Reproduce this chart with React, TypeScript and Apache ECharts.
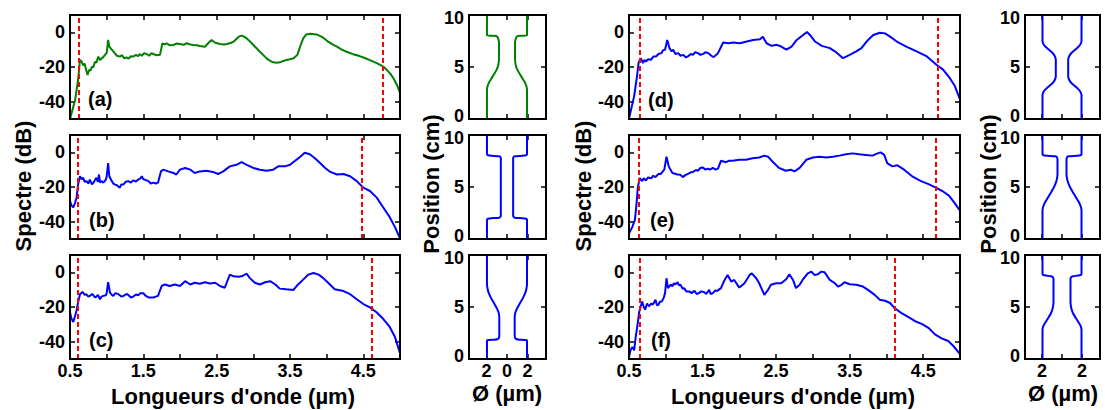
import React, { useEffect, useRef } from "react";
import * as echarts from "echarts";

// ---------- DATA ----------
// spectra: [wavelength (µm), level (dB)]
const specA = [[0.5,-50],[0.57,-39],[0.61,-27.5],[0.636,-16],[0.66,-17],[0.68,-19],[0.7,-18],[0.72,-21.7],[0.74,-24.6],[0.76,-21.7],[0.78,-22],[0.8,-19.8],[0.82,-20],[0.84,-17],[0.86,-17.5],[0.886,-14],[0.91,-16],[0.93,-15],[0.95,-14.5],[0.977,-13],[1.0,-12],[1.02,-4.4],[1.036,-8.3],[1.07,-10],[1.09,-11],[1.11,-12],[1.14,-13.5],[1.18,-14],[1.21,-13.2],[1.24,-15],[1.27,-14.4],[1.3,-15.2],[1.33,-13.8],[1.36,-14],[1.4,-13],[1.43,-13.8],[1.45,-12.5],[1.48,-13.5],[1.51,-12],[1.545,-12.5],[1.58,-13.5],[1.61,-12],[1.636,-12.5],[1.68,-13.2],[1.727,-13],[1.76,-6.3],[1.79,-7],[1.82,-6.3],[1.86,-7.5],[1.91,-7.3],[1.95,-6.5],[2.0,-6.7],[2.05,-7.2],[2.09,-6.3],[2.14,-7],[2.18,-7.3],[2.23,-7.5],[2.27,-7.9],[2.34,-8.3],[2.39,-6],[2.43,-4.4],[2.48,-6],[2.545,-6.7],[2.6,-7],[2.64,-6.7],[2.7,-6],[2.73,-5.4],[2.8,-2.5],[2.84,-1.9],[2.88,-2.6],[2.91,-3.5],[2.96,-5.5],[3.0,-7.3],[3.05,-9.5],[3.09,-11.2],[3.14,-13.3],[3.18,-15],[3.23,-16.5],[3.27,-17.3],[3.32,-17.6],[3.36,-17.3],[3.41,-16.5],[3.45,-15.9],[3.5,-15.5],[3.55,-15],[3.6,-13],[3.64,-8],[3.68,-3.5],[3.72,-1.3],[3.78,-0.8],[3.86,-1.2],[3.93,-2.5],[3.98,-4],[4.02,-5.4],[4.08,-7],[4.14,-8.3],[4.2,-9.8],[4.27,-11.2],[4.36,-12.6],[4.45,-13.7],[4.52,-14.8],[4.59,-16],[4.66,-17.3],[4.73,-18.8],[4.78,-20],[4.82,-21.7],[4.87,-24],[4.91,-26.5],[4.96,-30.5],[5.0,-35]];

const specB = [[0.5,-28],[0.52,-30.7],[0.545,-31.7],[0.57,-29],[0.59,-26],[0.61,-18.5],[0.636,-13.8],[0.66,-15.5],[0.68,-14.7],[0.7,-17],[0.727,-16.6],[0.75,-18],[0.77,-15.7],[0.8,-18.5],[0.82,-17.5],[0.84,-16],[0.86,-14.7],[0.88,-17],[0.895,-12.8],[0.91,-17.5],[0.93,-16.6],[0.955,-17.5],[0.99,-15.7],[1.0,-14],[1.02,-6.2],[1.036,-13.8],[1.07,-16.6],[1.09,-18],[1.11,-18.5],[1.14,-19],[1.18,-20.4],[1.2,-18.5],[1.23,-18.5],[1.26,-17],[1.295,-16.6],[1.33,-17.5],[1.36,-16.2],[1.4,-16.8],[1.43,-15.7],[1.46,-15],[1.48,-13.8],[1.5,-15.5],[1.52,-15.7],[1.57,-16.6],[1.6,-18],[1.636,-17.5],[1.67,-18],[1.7,-17.5],[1.74,-11],[1.77,-10],[1.84,-11],[1.91,-11.9],[1.95,-12.8],[2.0,-10],[2.07,-9],[2.14,-10],[2.2,-11.9],[2.27,-11],[2.36,-10.6],[2.45,-11.3],[2.52,-12.5],[2.59,-11],[2.68,-8.1],[2.77,-7.2],[2.84,-5.7],[2.91,-7.2],[3.0,-9],[3.09,-10],[3.18,-10.6],[3.27,-10],[3.34,-8.1],[3.43,-8.1],[3.5,-7.2],[3.57,-4.9],[3.64,-2.5],[3.7,-0.2],[3.77,-1.1],[3.84,-3.4],[3.91,-6.2],[3.98,-9],[4.05,-11.3],[4.14,-12.8],[4.23,-12.5],[4.32,-13.8],[4.41,-16.6],[4.5,-20.4],[4.59,-22.3],[4.68,-26],[4.77,-31.7],[4.86,-37.4],[4.93,-43],[5.0,-49.6]];

const specC = [[0.5,-23],[0.52,-26.8],[0.545,-28.7],[0.57,-25],[0.59,-22],[0.61,-17.4],[0.636,-12.6],[0.67,-11.3],[0.7,-13],[0.72,-12.6],[0.75,-14],[0.77,-13.6],[0.8,-12.5],[0.82,-13.2],[0.84,-14.5],[0.86,-14],[0.88,-13],[0.91,-15.5],[0.93,-14],[0.955,-13.6],[0.99,-13.2],[1.0,-12],[1.02,-5.7],[1.045,-11.7],[1.07,-13],[1.09,-13.6],[1.12,-12],[1.16,-12.6],[1.2,-14],[1.23,-13.6],[1.27,-12.5],[1.3,-13.2],[1.33,-14.5],[1.36,-14],[1.4,-12.8],[1.43,-13.2],[1.46,-12],[1.5,-12],[1.53,-13.5],[1.57,-14.5],[1.636,-14.5],[1.7,-13.6],[1.75,-7.9],[1.795,-7],[1.86,-7.9],[1.93,-7],[2.0,-7.9],[2.07,-5.1],[2.14,-7],[2.2,-6],[2.27,-6.6],[2.34,-5.7],[2.41,-6.4],[2.48,-6],[2.545,-7.9],[2.61,-8.9],[2.68,-1.3],[2.73,-2.3],[2.8,-2.6],[2.84,-2.3],[2.91,-0.8],[2.95,-3.2],[3.02,-6],[3.09,-7],[3.16,-5.7],[3.23,-5.1],[3.3,-7],[3.36,-9.4],[3.45,-9.8],[3.545,-10.2],[3.61,-7],[3.68,-4.2],[3.75,-1.3],[3.82,-0.4],[3.89,-1.3],[3.95,-3.2],[4.02,-6],[4.11,-9.8],[4.23,-10.8],[4.32,-12.6],[4.41,-15.5],[4.5,-18.3],[4.59,-20.2],[4.68,-23],[4.77,-26.8],[4.86,-31.5],[4.93,-37.2],[5.0,-46.6]];

const specD = [[0.5,-49.7],[0.57,-36.8],[0.61,-25],[0.63,-17.7],[0.66,-14.9],[0.69,-17.7],[0.71,-16],[0.73,-16.8],[0.76,-15.5],[0.8,-15.8],[0.83,-14],[0.87,-13.9],[0.9,-12.5],[0.94,-12],[0.96,-10.5],[0.99,-10],[1.02,-4.4],[1.05,-9.1],[1.08,-11],[1.1,-10],[1.13,-12.5],[1.17,-12],[1.2,-13.5],[1.24,-13],[1.27,-14.5],[1.3,-13.9],[1.34,-12.5],[1.37,-13],[1.4,-11.5],[1.44,-12],[1.47,-13],[1.51,-12.4],[1.54,-11.5],[1.58,-12],[1.62,-13.5],[1.65,-14.3],[1.71,-12],[1.78,-5.9],[1.85,-6.3],[1.92,-5.9],[2.01,-6.3],[2.1,-5.3],[2.19,-4.4],[2.28,-4],[2.32,-2.5],[2.37,-6.3],[2.44,-7.8],[2.51,-7.2],[2.57,-8.2],[2.64,-10],[2.71,-8.2],[2.78,-4.4],[2.85,-2.1],[2.92,0.2],[2.96,-1.5],[3.03,-5.3],[3.12,-7.8],[3.23,-9.1],[3.32,-11.6],[3.41,-14.9],[3.5,-13],[3.59,-11],[3.66,-9.1],[3.73,-5.3],[3.82,-1.5],[3.91,-0.2],[3.98,-0.6],[4.05,-2.5],[4.14,-5.3],[4.27,-8.2],[4.41,-11],[4.55,-13.9],[4.68,-18.7],[4.77,-21.5],[4.86,-26.3],[4.93,-31],[5.0,-38.7]];

const specE = [[0.5,-46.8],[0.545,-43],[0.58,-39],[0.6,-30.8],[0.62,-20.4],[0.645,-14.7],[0.68,-16.6],[0.7,-15],[0.73,-16.2],[0.76,-14.5],[0.8,-15],[0.83,-13.5],[0.86,-14.3],[0.9,-12.5],[0.93,-12.5],[0.96,-11],[0.98,-10],[1.01,-2.5],[1.04,-8.1],[1.09,-11.9],[1.16,-12.8],[1.2,-13],[1.23,-14.3],[1.27,-13],[1.3,-12.5],[1.34,-11.5],[1.37,-11.3],[1.41,-10.2],[1.44,-10.6],[1.47,-9],[1.5,-8.7],[1.54,-10],[1.57,-9.4],[1.6,-10],[1.64,-9],[1.68,-10],[1.71,-9.4],[1.75,-4.9],[1.82,-5.7],[1.86,-4.8],[1.91,-4.9],[2.0,-4.3],[2.09,-4.3],[2.18,-3.4],[2.27,-3],[2.34,-1.9],[2.39,-2.5],[2.45,-5.3],[2.54,-9],[2.63,-10.6],[2.7,-10],[2.75,-11],[2.82,-9],[2.91,-4.3],[3.0,-3],[3.09,-2.5],[3.18,-3],[3.27,-2.5],[3.36,-1.9],[3.45,-1.1],[3.54,-0.6],[3.63,-1.1],[3.72,-1.5],[3.81,-1.9],[3.88,-0.6],[3.92,0],[3.97,-1.5],[4.01,-6.2],[4.08,-8.1],[4.15,-7.5],[4.24,-10],[4.35,-13.8],[4.47,-16.6],[4.58,-18.5],[4.67,-20.4],[4.76,-22.3],[4.85,-25],[4.92,-28.9],[5.0,-33.6]];

const specF = [[0.5,-49],[0.52,-45],[0.545,-43],[0.57,-45],[0.59,-37.7],[0.61,-32],[0.64,-22.5],[0.66,-19.6],[0.68,-16.8],[0.7,-20],[0.72,-21.5],[0.745,-18],[0.77,-19.6],[0.8,-18],[0.82,-18.7],[0.84,-17.5],[0.86,-15.8],[0.88,-19],[0.9,-18.7],[0.92,-17],[0.945,-16.8],[0.97,-15],[0.99,-12],[1.01,-3.4],[1.03,-9.1],[1.05,-8],[1.07,-7.2],[1.09,-8],[1.11,-6.3],[1.13,-7],[1.16,-5.7],[1.18,-7.5],[1.2,-7.2],[1.23,-9.5],[1.25,-9.1],[1.28,-11],[1.32,-11],[1.35,-12],[1.39,-10.7],[1.42,-12.5],[1.45,-12],[1.48,-11],[1.52,-11.4],[1.55,-12.5],[1.59,-10.1],[1.61,-12.5],[1.64,-12],[1.67,-10.5],[1.7,-10.7],[1.75,-9.1],[1.8,-4.4],[1.84,-1.5],[1.89,-5.3],[1.93,-4.4],[2.0,-8.8],[2.07,-6.3],[2.14,-1.5],[2.17,-0.6],[2.23,-3.4],[2.27,-6.3],[2.34,-13],[2.39,-10.1],[2.43,-7.2],[2.5,-6.3],[2.57,-6.3],[2.64,-3.8],[2.68,-1.1],[2.73,-4.4],[2.77,-9.1],[2.82,-7.2],[2.86,-4.4],[2.93,-0.6],[2.98,0.4],[3.02,-1.5],[3.07,-1.1],[3.11,0.4],[3.16,0],[3.23,-4.4],[3.3,-6.3],[3.34,-8.2],[3.39,-7.2],[3.43,-5.7],[3.5,-6.9],[3.59,-7.2],[3.68,-8.2],[3.75,-10.1],[3.84,-13],[3.91,-15.8],[3.98,-16.4],[4.05,-17.7],[4.11,-20.6],[4.2,-23.4],[4.3,-25.9],[4.39,-28.2],[4.48,-29.7],[4.57,-32],[4.66,-35.8],[4.75,-38.1],[4.84,-39.6],[4.91,-42.5],[5.0,-47.2]];

// red dashed cut-off wavelengths (µm)
const cutA = [0.62, 4.76];
const cutB = [0.61, 4.48];
const cutC = [0.61, 4.62];
const cutD = [0.65, 4.7];
const cutE = [0.63, 4.67];
const cutF = [0.65, 4.11];

// fibre profiles: [position (cm), radius (µm)]
const profA = [[0,1.95],[2.8,1.95],[3.2,1.88],[3.6,1.7],[4.0,1.45],[4.4,1.2],[4.8,0.98],[5.2,0.85],[5.6,0.79],[5.8,0.78],[7.3,0.78],[7.6,0.82],[7.85,0.92],[7.98,1.05],[8.05,1.95],[10,1.95]];
const profB = [[0,1.95],[1.85,1.95],[1.95,1.85],[2.0,1.5],[2.05,0.75],[2.2,0.6],[7.8,0.6],[7.95,0.75],[8.0,1.5],[8.05,1.85],[8.15,1.95],[10,1.95]];
const profC = [[0,1.95],[1.75,1.95],[1.82,1.85],[1.86,1.2],[1.92,0.9],[2.05,0.78],[2.3,0.75],[4.0,0.75],[4.4,0.8],[4.8,0.95],[5.2,1.17],[5.6,1.4],[6.0,1.62],[6.4,1.8],[6.8,1.9],[7.2,1.95],[10,1.95]];
const profD = [[0,1.95],[2.3,1.95],[2.6,1.85],[2.9,1.6],[3.2,1.25],[3.5,0.9],[3.8,0.7],[4.1,0.62],[5.7,0.62],[6.0,0.7],[6.3,0.9],[6.6,1.25],[6.9,1.6],[7.2,1.85],[7.5,1.95],[10,1.95]];
const profE = [[0,1.95],[2.8,1.95],[3.2,1.85],[3.6,1.65],[4.0,1.4],[4.4,1.15],[4.8,0.9],[5.2,0.7],[5.6,0.55],[6.0,0.47],[6.3,0.45],[7.6,0.45],[7.85,0.5],[7.95,0.65],[8.0,1.5],[8.05,1.85],[8.15,1.95],[10,1.95]];
const profF = [[0,1.95],[2.8,1.95],[3.2,1.85],[3.6,1.6],[4.0,1.35],[4.4,1.1],[4.8,0.95],[5.2,0.87],[5.5,0.85],[7.7,0.85],[7.85,0.9],[7.95,1.1],[8.02,1.6],[8.1,1.9],[8.2,1.95],[10,1.95]];

const panelLabels = ["(a)", "(b)", "(c)", "(d)", "(e)", "(f)"];

// axis ticks / labels
const specXTicks = [1, 1.5, 2, 2.5, 3, 3.5, 4, 4.5];
const specXLabels = [0.5, 1.5, 2.5, 3.5, 4.5];
const specYTicks = [-40, -20, 0];
const profXTicks = [-2, 0, 2];
const profXLabelsLeft = [-2, 0, 2];
const profXLabelsRight = [-2, 2];
const profYTicks = [5];
const profYLabelMid = [5];
const profYLabelMin = [0];
const profYLabelMax = [10];

// ---------- LAYOUT ----------
const SPEC_LEFT = [70, 629];
const SPEC_W = [330, 331];
const PROF_LEFT = [469, 1025];
const PROF_W = [77, 75];
const ROW_TOP = [15, 135, 255];
const ROW_H = 104;
const PROF_X = [-3.7, 3.8];
const PROF_Y = [0, 10];
const FONT = "'Liberation Sans', Arial, Helvetica, sans-serif";
const GREEN = "#008000";
const BLUE = "#0000ff";

function mkAxis(
  gridIndex: number,
  position: string,
  min: number,
  max: number,
  ticks: number[],
  labels: number[],
  fmt: (v: number) => string,
  vAlign?: string,
  lineHeight = 14
) {
  const label: any = {
    show: labels.length > 0,
    customValues: labels,
    formatter: fmt,
    color: "#000",
    fontSize: 18,
    lineHeight,
    fontWeight: "bold",
    fontFamily: FONT,
    margin: 5,
    showMinLabel: true,
    showMaxLabel: true,
  };
  if (vAlign) label.verticalAlign = vAlign;
  return {
    type: "value",
    gridIndex,
    position,
    min,
    max,
    axisLine: { show: false, onZero: false },
    axisTick: {
      show: ticks.length > 0,
      inside: true,
      length: 5,
      customValues: ticks,
      lineStyle: { color: "#000", width: 1.5 },
    },
    axisLabel: label,
    splitLine: { show: false },
  };
}

function buildOption() {
  const specs = [specA, specB, specC, specD, specE, specF];
  const cuts = [cutA, cutB, cutC, cutD, cutE, cutF];
  const profs = [profA, profB, profC, profD, profE, profF];
  const grids: any[] = [];
  const xAxes: any[] = [];
  const yAxes: any[] = [];
  const series: any[] = [];
  const frames: any[] = [];
  const fmt1 = (v: number) => v.toFixed(1);
  const fmtInt = (v: number) => String(Math.round(v));
  const fmtAbs = (v: number) => String(Math.abs(Math.round(v)));
  const frame = (x: number, y: number, w: number, h: number) => ({
    type: "rect",
    shape: { x, y, width: w, height: h },
    style: { fill: "none", stroke: "#000", lineWidth: 2 },
    z: 20,
    silent: true,
  });

  for (let i = 0; i < 6; i++) {
    const col = i < 3 ? 0 : 1;
    const row = i % 3;
    const color = i === 0 ? GREEN : BLUE;
    const bottom = row === 2;

    // spectrum panel
    const gS = grids.length;
    grids.push({ left: SPEC_LEFT[col], top: ROW_TOP[row], width: SPEC_W[col], height: ROW_H });
    frames.push(frame(SPEC_LEFT[col], ROW_TOP[row], SPEC_W[col], ROW_H));
    const xS = xAxes.length;
    xAxes.push(mkAxis(gS, "bottom", 0.5, 5, specXTicks, bottom ? specXLabels : [], fmt1));
    xAxes.push(mkAxis(gS, "top", 0.5, 5, specXTicks, [], fmt1));
    const yS = yAxes.length;
    yAxes.push(mkAxis(gS, "left", -50, 10, specYTicks, specYTicks, fmtInt));
    yAxes.push(mkAxis(gS, "right", -50, 10, specYTicks, [], fmtInt));
    series.push({
      type: "line",
      xAxisIndex: xS,
      yAxisIndex: yS,
      data: specs[i],
      showSymbol: false,
      lineStyle: { color, width: 2 },
      z: 3,
      markLine: {
        silent: true,
        symbol: ["none", "none"],
        label: { show: false },
        lineStyle: { color: "#ff0000", type: [5, 3], width: 2 },
        data: cuts[i].map((c) => ({ xAxis: c })),
        z: 4,
      },
    });

    // profile panel
    const gP = grids.length;
    grids.push({ left: PROF_LEFT[col], top: ROW_TOP[row], width: PROF_W[col], height: ROW_H });
    frames.push(frame(PROF_LEFT[col], ROW_TOP[row], PROF_W[col], ROW_H));
    const xP = xAxes.length;
    const pl = bottom ? (col === 0 ? profXLabelsLeft : profXLabelsRight) : [];
    xAxes.push(mkAxis(gP, "bottom", PROF_X[0], PROF_X[1], profXTicks, pl, fmtAbs));
    xAxes.push(mkAxis(gP, "top", PROF_X[0], PROF_X[1], profXTicks, [], fmtAbs));
    const yP = yAxes.length;
    yAxes.push(mkAxis(gP, "left", PROF_Y[0], PROF_Y[1], profYTicks, profYLabelMid, fmtInt));
    yAxes.push(mkAxis(gP, "right", PROF_Y[0], PROF_Y[1], profYTicks, [], fmtInt));
    // label-only axes: the 0 and 10 of stacked panels sit slightly apart
    yAxes.push(mkAxis(gP, "left", PROF_Y[0], PROF_Y[1], [], profYLabelMin, fmtInt, "bottom", 6));
    yAxes.push(mkAxis(gP, "left", PROF_Y[0], PROF_Y[1], [], profYLabelMax, fmtInt, "top", 6));
    const prof = profs[i];
    series.push({
      type: "line",
      xAxisIndex: xP,
      yAxisIndex: yP,
      data: prof.map(([p, r]) => [-r, p]),
      showSymbol: false,
      smooth: 0.2,
      lineStyle: { color, width: 2 },
    });
    series.push({
      type: "line",
      xAxisIndex: xP,
      yAxisIndex: yP,
      data: prof.map(([p, r]) => [r, p]),
      showSymbol: false,
      smooth: 0.2,
      lineStyle: { color, width: 2 },
    });
  }

  const titleFont = `bold 22px ${FONT}`;
  const labelFont = `bold 20px ${FONT}`;
  const txt = (text: string, x: number, y: number, font: string, rot = 0, align = "center") => ({
    type: "text",
    x,
    y,
    rotation: rot,
    style: { text, font, fill: "#000", textAlign: align, textVerticalAlign: "middle" },
    z: 10,
  });
  const labelPos = [[88, 99], [89, 220], [89, 340], [648, 100], [650, 220], [651, 340]];
  const graphic: any[] = [
    ...frames,
    txt("Spectre (dB)", 23, 186, titleFont, Math.PI / 2),
    txt("Spectre (dB)", 583, 186, titleFont, Math.PI / 2),
    txt("Position (cm)", 431, 184, titleFont, Math.PI / 2),
    txt("Position (cm)", 988, 184, titleFont, Math.PI / 2),
    txt("Longueurs d'onde (µm)", 233, 396, titleFont),
    txt("Longueurs d'onde (µm)", 793, 396, titleFont),
    txt("Ø (µm)", 507, 393, titleFont),
    txt("Ø (µm)", 1063, 393, titleFont),
    ...panelLabels.map((l, i) => txt(l, labelPos[i][0], labelPos[i][1], labelFont, 0, "left")),
  ];

  return {
    animation: false,
    backgroundColor: "#ffffff",
    grid: grids,
    xAxis: xAxes,
    yAxis: yAxes,
    series,
    graphic,
  };
}

export default function App() {
  const ref = useRef<HTMLDivElement>(null);
  useEffect(() => {
    if (!ref.current) return;
    const chart = echarts.init(ref.current, undefined, { renderer: "svg" });
    chart.setOption(buildOption() as any);
    return () => chart.dispose();
  }, []);
  return (
    <div
      ref={ref}
      style={{ position: "absolute", left: 0, top: 0, width: 1105, height: 410, background: "#fff" }}
    />
  );
}
